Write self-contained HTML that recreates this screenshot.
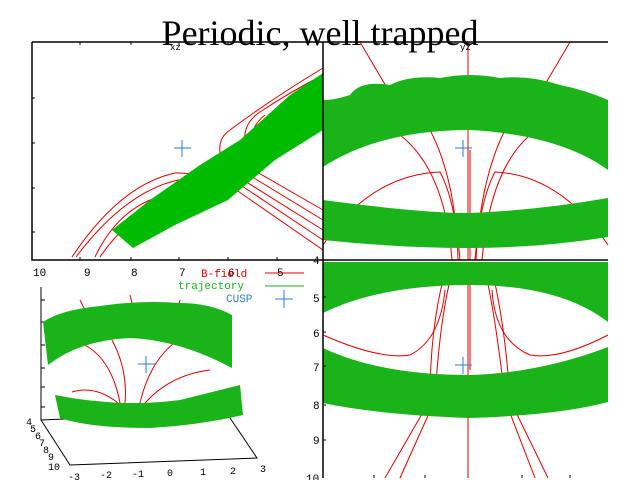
<!DOCTYPE html>
<html><head><style>
html,body{margin:0;padding:0;background:#fff;width:640px;height:480px;overflow:hidden}
svg{display:block}
text{font-family:"Liberation Mono",monospace}
</style></head><body>
<svg width="640" height="480" viewBox="0 0 640 480" xmlns="http://www.w3.org/2000/svg">
<rect width="640" height="480" fill="#fff"/>
<!-- TOP-LEFT xz panel -->
<g fill="none" stroke="#d00" stroke-width="1">
<path d="M72,257 Q120,185 175,173 Q205,172 218,188"/>
<path d="M76,257 Q125,192 178,180 Q208,180 222,195"/>
<path d="M95,257 Q115,215 150,200 Q190,190 210,195"/>
<path d="M100,257 Q125,220 160,205"/>
<path d="M232,187 L323,250"/><path d="M236,182 L323,240"/><path d="M240,178 L323,230"/>
<path d="M244,172 L323,220"/><path d="M250,168 L323,210"/>
<path d="M222,160 Q215,140 230,130 Q270,100 323,68"/>
<path d="M246,150 Q240,125 260,112 Q290,92 323,75"/>
<path d="M252,150 Q248,128 265,115"/>
</g>
<path d="M112,230 L133,248 L175,225 L228,200 L275,160 L323,130 L323,73 L290,95 L240,140 L200,165 L150,200 Z" fill="#0b0"/>
<g stroke="#2a7fd6" stroke-width="1"><path d="M174,148 H191 M182,140 V157"/></g>
<!-- TOP-RIGHT yz panel -->
<g fill="none" stroke="#d00" stroke-width="1">
<path d="M468,42 V260"/><path d="M470,150 V260"/>
<path d="M360,42 L400,110"/><path d="M570,42 L530,110"/>
<path d="M400,135 Q445,170 452,260"/><path d="M530,135 Q490,170 482,260"/>
<path d="M430,130 Q456,180 458,260"/><path d="M505,130 Q480,180 476,260"/>
<path d="M323,245 Q370,175 440,172 Q455,200 460,260"/>
<path d="M608,245 Q560,175 495,172 Q480,200 475,260"/>
</g>
<path d="M323,100 Q335,100 350,95 Q360,80 390,85 Q410,75 440,78 Q470,72 500,78 Q530,75 560,85 Q585,90 608,100 L608,170 Q560,135 470,130 Q380,130 323,167 Z" fill="#1ab31a"/>
<path d="M323,200 Q420,213 470,213 Q540,210 608,198 L608,237 Q540,248 470,248 Q400,248 323,240 Z" fill="#1ab31a"/>
<g stroke="#2a7fd6" stroke-width="1"><path d="M455,148 H472 M463,140 V157"/></g>
<!-- BOTTOM-RIGHT panel -->
<g fill="none" stroke="#d00" stroke-width="1">
<path d="M468,262 V478"/><path d="M470,262 V370"/>
<path d="M455,262 Q440,310 435,400 L400,478"/><path d="M483,262 Q495,310 505,400 L535,478"/>
<path d="M448,262 Q430,320 430,400 L385,478"/><path d="M490,262 Q505,320 510,400 L548,478"/>
<path d="M323,335 Q380,360 410,355 Q440,340 445,290"/>
<path d="M608,335 Q560,360 530,355 Q495,340 492,290"/>
</g>
<path d="M323,262 L608,262 L608,322 Q560,285 470,285 Q380,285 323,313 Z" fill="#1ab31a"/>
<path d="M323,348 Q380,375 470,375 Q540,373 608,347 L608,402 Q560,415 470,418 Q380,415 323,403 Z" fill="#1ab31a"/>
<g stroke="#2a7fd6" stroke-width="1"><path d="M455,365 H472 M463,357 V374"/></g>
<!-- frames -->
<g stroke="#000" stroke-width="1.5" fill="none">
<path d="M32,42 H608"/><path d="M32,42 V260 H323"/>
<path d="M323,42 V478"/><path d="M323,260 H608"/>
</g>
<g stroke="#000" stroke-width="1">
<path d="M32,98 h3 M32,143 h3 M32,188 h3 M32,232 h3"/>
<path d="M80,42 v3 M131,42 v3 M179,42 v3 M228,42 v3 M277,42 v3"/>
<path d="M80,260 v-3 M131,260 v-3 M179,260 v-3 M228,260 v-3 M277,260 v-3"/>
<path d="M323,297 h3 M323,332 h3 M323,366 h3 M323,405 h3 M323,440 h3"/>
<path d="M374,478 v-3 M425,478 v-3 M522,478 v-3 M570,478 v-3"/>
</g>
<g font-size="11" fill="#000">
<text x="33" y="276">10</text><text x="84" y="276">9</text><text x="131" y="276">8</text>
<text x="179" y="276">7</text><text x="228" y="276">6</text><text x="277" y="276">5</text>
<text x="313" y="264">4</text>
<text x="313" y="302">5</text><text x="313" y="337">6</text><text x="313" y="371">7</text>
<text x="313" y="409">8</text><text x="313" y="444">9</text><text x="306" y="482">10</text>
<text x="170" y="50" font-size="9">xz</text><text x="460" y="50" font-size="9">yz</text>
</g>
<!-- 3D panel -->
<g stroke="#000" stroke-width="1" fill="none">
<path d="M41,287 V420 L70,465 L257,458 L226,412 L41,420"/>
<path d="M41,300 h4 M41,322 h4 M41,345 h4 M41,368 h4 M41,387 h4 M41,407 h4"/>
</g>
<g fill="none" stroke="#d00" stroke-width="1">
<path d="M120,403 Q112,360 85,345"/><path d="M125,403 Q128,370 112,340"/>
<path d="M140,403 Q150,360 178,340"/><path d="M145,403 Q170,375 210,370"/>
<path d="M118,403 Q95,385 72,392"/>
<path d="M80,300 L85,310"/><path d="M180,300 L178,308"/><path d="M130,295 L132,303"/>
</g>
<path d="M43,322 Q60,310 100,306 Q140,300 180,303 Q210,303 232,315 L232,368 Q180,340 130,338 Q80,340 48,365 Z" fill="#1ab31a"/>
<path d="M55,395 Q120,408 180,400 Q220,390 240,385 L243,415 Q200,425 150,428 Q90,428 60,418 Z" fill="#1ab31a"/>
<g stroke="#2a7fd6" stroke-width="1"><path d="M138,364 H155 M146,356 V373"/></g>
<g font-size="10" fill="#000">
<text x="26" y="425">4</text><text x="30" y="432">5</text><text x="35" y="439">6</text>
<text x="39" y="446">7</text><text x="43" y="453">8</text><text x="48" y="460">9</text><text x="48" y="470">10</text>
<text x="68" y="480">-3</text><text x="100" y="478">-2</text><text x="132" y="477">-1</text>
<text x="167" y="476">0</text><text x="200" y="475">1</text><text x="230" y="474">2</text><text x="260" y="472">3</text>
</g>
<!-- legend -->
<g font-size="11">
<text x="201" y="277" fill="#d00">B-field</text>
<text x="178" y="289" fill="#1ab31a">trajectory</text>
<text x="226" y="302" fill="#2a7fd6">CUSP</text>
</g>
<path d="M265,273 H304" stroke="#d00"/>
<path d="M265,286 H304" stroke="#1ab31a"/>
<path d="M275,299 H293 M284,290 V308" stroke="#2a7fd6"/>
<!-- title -->
<text x="320" y="45" text-anchor="middle" font-size="36" fill="#000" style="font-family:'Liberation Serif',serif">Periodic, well trapped</text>
</svg>
</body></html>
